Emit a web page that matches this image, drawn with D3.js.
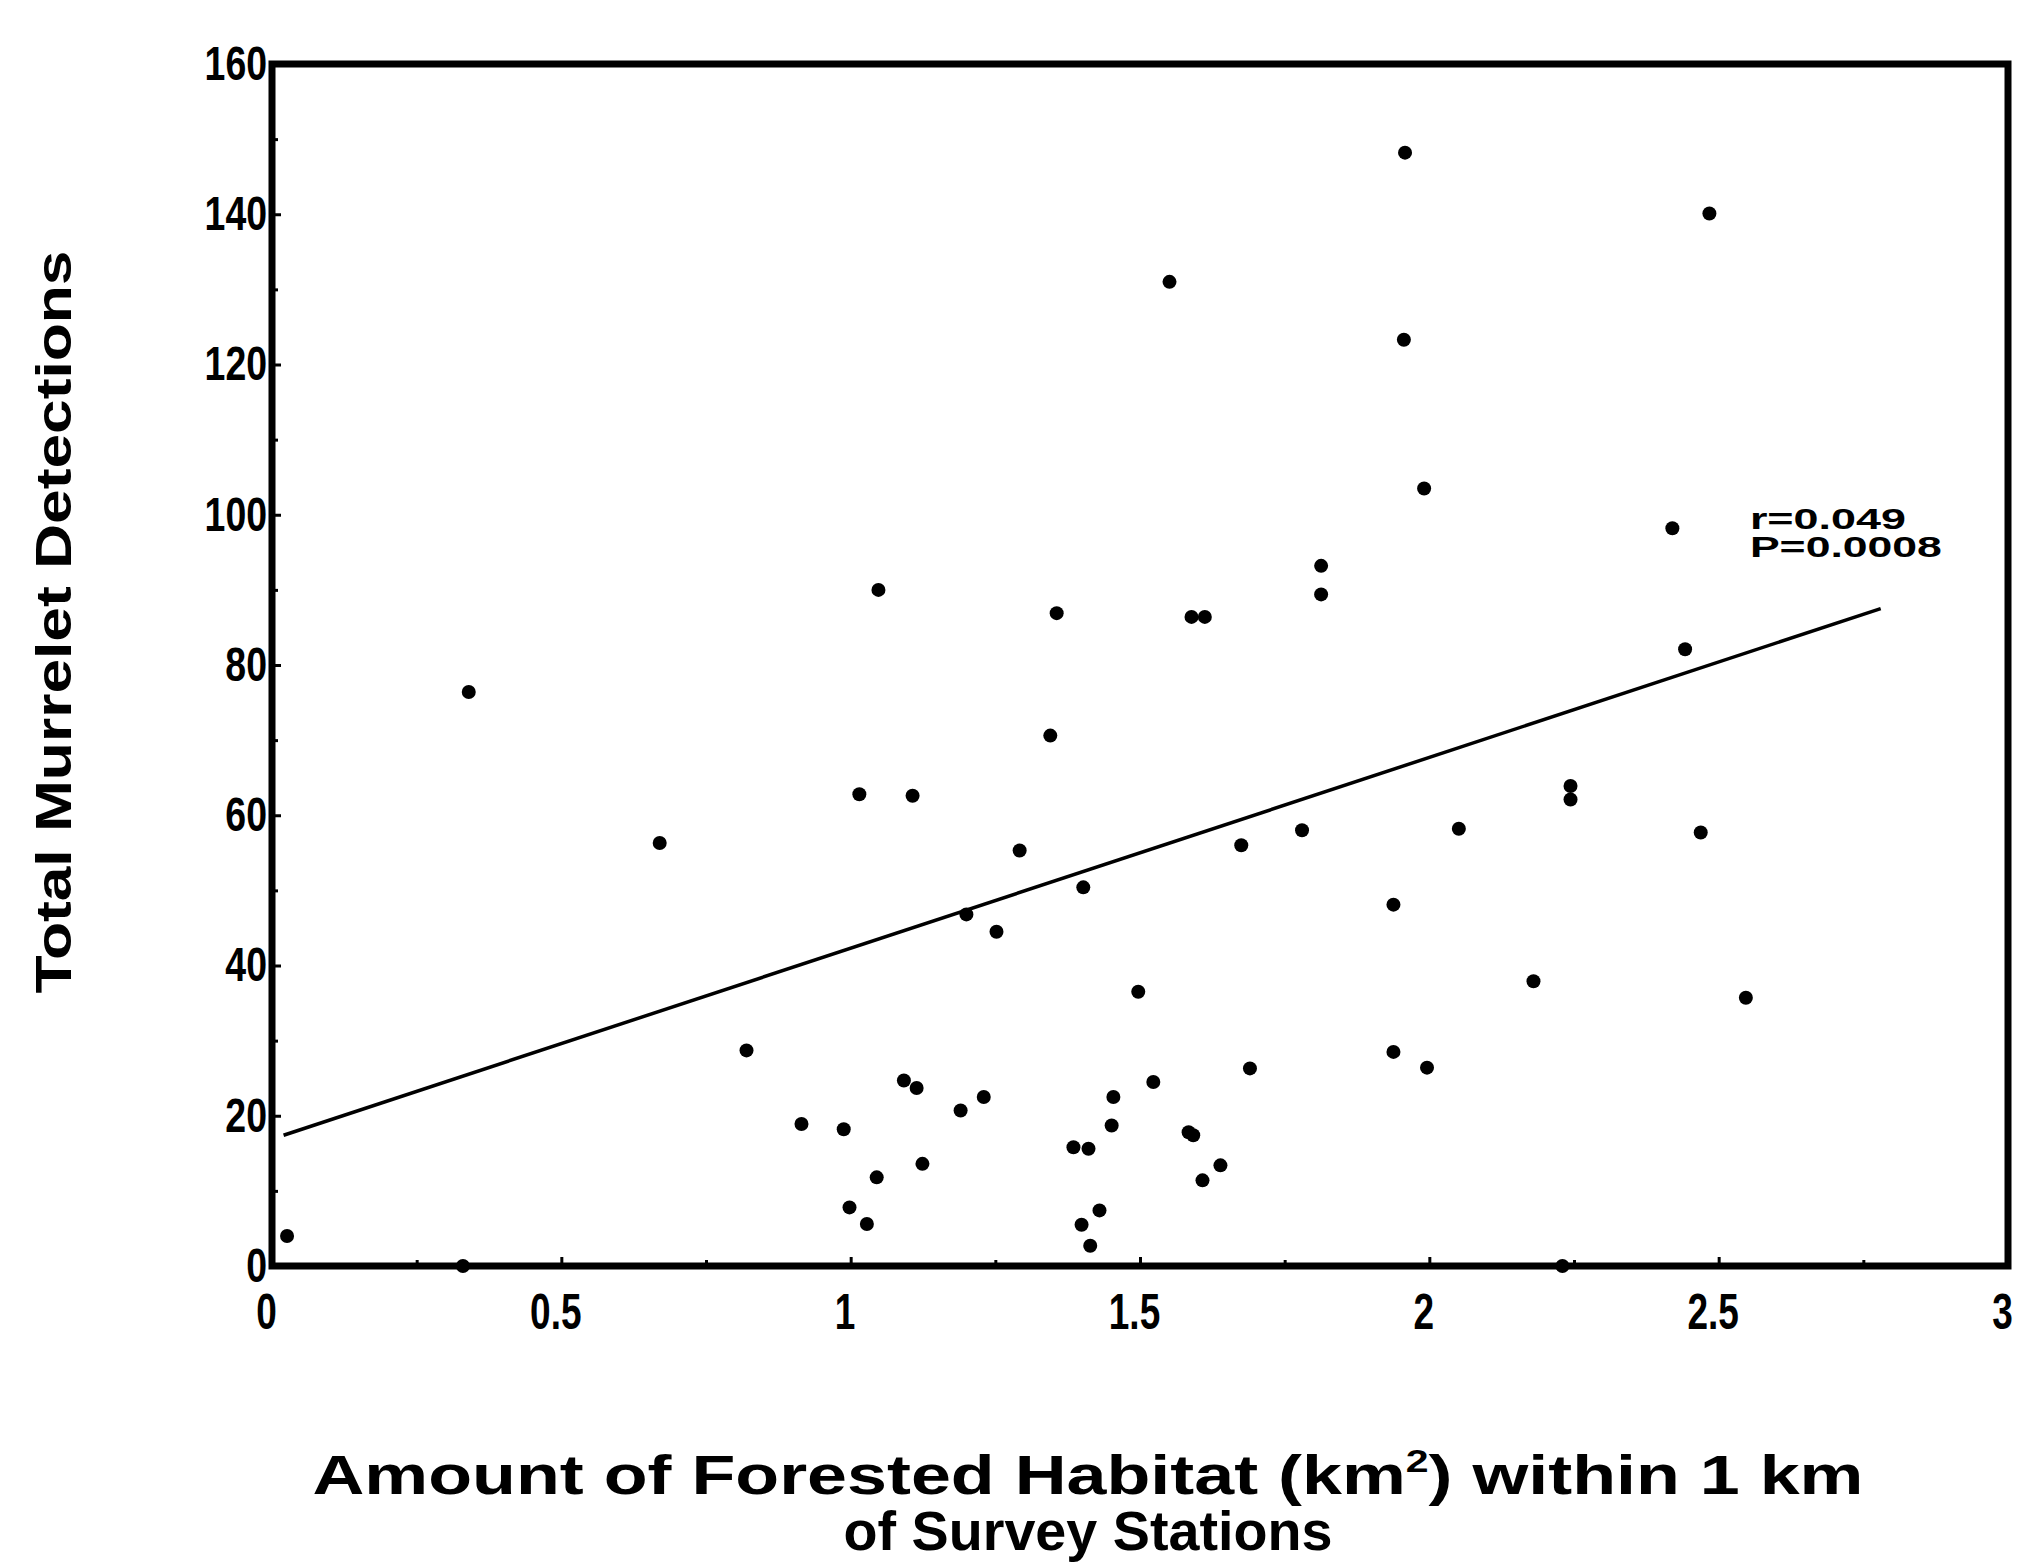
<!DOCTYPE html>
<html lang="en">
<head>
  <meta charset="utf-8">
  <title>Murrelet detections vs forested habitat</title>
  <script src="https://d3js.org/d3.v7.min.js"></script>
  <style>
    body { margin: 0; background: #fff; }
    svg text { font-family: "Liberation Sans", Arial, sans-serif; font-weight: bold; fill: #000; }
  </style>
</head>
<body>
<div id="chart"></div>

<script>

// data: one value per survey station
var forestArea = [0.026, 0.33, 0.34, 0.67, 0.82, 0.915, 0.988, 0.998, 1.028, 1.045,
  1.015, 1.048, 1.092, 1.114, 1.124, 1.107, 1.19, 1.2, 1.23, 1.252,
  1.292, 1.345, 1.356, 1.385, 1.411, 1.402, 1.399, 1.414, 1.43, 1.451,
  1.454, 1.497, 1.523, 1.551, 1.584, 1.592, 1.589, 1.612, 1.608, 1.639,
  1.675, 1.69, 1.78, 1.813, 1.813, 1.938, 1.938, 1.958, 1.956, 1.991,
  1.996, 2.051, 2.18, 2.244, 2.244, 2.23, 2.42, 2.442, 2.469, 2.484, 2.547];
var detections = [4, 0, 76.4, 56.3, 28.7, 18.9, 18.2, 7.8, 5.6, 11.8,
  62.8, 90.0, 24.7, 23.7, 13.6, 62.6, 20.7, 46.8, 22.5, 44.5,
  55.3, 70.6, 86.9, 15.8, 15.6, 50.4, 5.5, 2.7, 7.4, 18.7,
  22.5, 36.5, 24.5, 131, 17.8, 17.4, 86.4, 86.4, 11.4, 13.4,
  56.0, 26.3, 58.0, 93.2, 89.4, 48.1, 28.5, 148.2, 123.3, 103.5,
  26.4, 58.2, 37.9, 63.9, 62.1, 0, 98.2, 82.1, 57.7, 140.1, 35.7];

// fitted line as printed (intercept, slope) and the x range it is drawn over
var fitLine = [16.9, 25.4];
var fitRange = [0.02, 2.78];

var xTicks = [0, 0.5, 1, 1.5, 2, 2.5, 3];
var yTicks = [0, 20, 40, 60, 80, 100, 120, 140, 160];
var statLines = ["r=0.049", "P=0.0008"];

// set the dimensions and margins of the graph
var W = 2018, H = 1564;
var margin = {top: 64, right: 10, bottom: 298, left: 272},
    width = W - margin.left - margin.right,
    height = H - margin.top - margin.bottom;

var svg = d3.select("#chart")
  .append("svg")
    .attr("width", W)
    .attr("height", H)
  .append("g")
    .attr("transform", "translate(" + margin.left + "," + margin.top + ")");

var x = d3.scaleLinear().domain([0, 3]).range([0, width]);
var y = d3.scaleLinear().domain([0, 160]).range([height, 0]);

// X axis: inward ticks, minor ticks every 0.25
var xAxis = svg.append("g")
    .attr("transform", "translate(0," + height + ")")
    .call(d3.axisBottom(x).tickValues(xTicks).tickFormat(function(d) { return String(d); })
      .tickSizeInner(-9).tickSizeOuter(0).tickPadding(28));
svg.append("g")
    .attr("transform", "translate(0," + height + ")")
    .call(d3.axisBottom(x).tickValues(d3.range(0.25, 3, 0.5)).tickSizeInner(-6).tickSizeOuter(0).tickFormat(""));

// Y axis: inward ticks, minor ticks every 10
var yAxis = svg.append("g")
    .call(d3.axisLeft(y).tickValues(yTicks).tickSizeInner(-9).tickSizeOuter(0).tickPadding(5));
svg.append("g")
    .call(d3.axisLeft(y).tickValues(d3.range(10, 160, 20)).tickSizeInner(-6).tickSizeOuter(0).tickFormat(""));

svg.selectAll(".domain").remove();
svg.selectAll(".tick line").attr("stroke", "#000").attr("stroke-width", 3);

// the printed digits are tall and narrow: squeeze them sideways
xAxis.selectAll(".tick text")
    .style("font-size", "50px")
    .attr("transform", "translate(-6,0) scale(0.74,1)");
yAxis.selectAll(".tick text")
    .style("font-size", "48px")
    .attr("x", -5 / 0.78)
    .attr("transform", "scale(0.78,1)");

// frame around the plot
svg.append("rect")
    .attr("x", 0)
    .attr("y", 0)
    .attr("width", width)
    .attr("height", height)
    .attr("fill", "none")
    .attr("stroke", "#000")
    .attr("stroke-width", 7);

// regression line
svg.append("line")
    .attr("x1", x(fitRange[0]))
    .attr("y1", y(fitLine[0] + fitLine[1] * fitRange[0]))
    .attr("x2", x(fitRange[1]))
    .attr("y2", y(fitLine[0] + fitLine[1] * fitRange[1]))
    .attr("stroke", "#000")
    .attr("stroke-width", 3.5);

// the stations
svg.selectAll("circle")
    .data(forestArea)
    .enter()
    .append("circle")
      .attr("cx", function(d) { return x(d); })
      .attr("cy", function(d, i) { return y(detections[i]); })
      .attr("r", 7)
      .attr("fill", "#000");

// r and P next to the line
svg.selectAll(".stat")
    .data(statLines)
    .enter()
    .append("text")
      .attr("class", "stat")
      .attr("x", x(2.554))
      .attr("y", function(d, i) { return y(98.1) + i * 28; })
      .attr("textLength", function(d, i) { return i ? 192 : 156; })
      .attr("lengthAdjust", "spacingAndGlyphs")
      .style("font-size", "29px")
      .text(function(d) { return d; });

// axis titles
var root = d3.select("#chart svg");

var xt = root.append("text")
    .attr("x", 1088)
    .attr("y", 1494)
    .attr("text-anchor", "middle")
    .attr("textLength", 1551)
    .attr("lengthAdjust", "spacingAndGlyphs")
    .style("font-size", "56px");
xt.append("tspan").text("Amount of Forested Habitat (km");
xt.append("tspan").attr("dy", -22).style("font-size", "32px").text("2");
xt.append("tspan").attr("dy", 22).text(") within 1 km");

root.append("text")
    .attr("x", 1088)
    .attr("y", 1550)
    .attr("text-anchor", "middle")
    .attr("textLength", 489)
    .attr("lengthAdjust", "spacingAndGlyphs")
    .style("font-size", "56px")
    .text("of Survey Stations");

root.append("text")
    .attr("transform", "translate(71,622) rotate(-90)")
    .attr("text-anchor", "middle")
    .attr("textLength", 743)
    .attr("lengthAdjust", "spacingAndGlyphs")
    .style("font-size", "50px")
    .text("Total Murrelet Detections");

</script>
</body>
</html>
